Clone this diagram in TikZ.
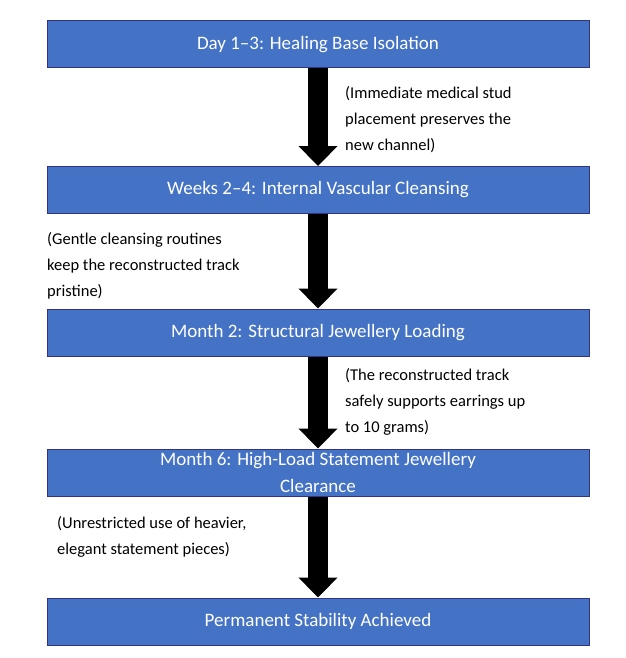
\documentclass[tikz,border=0pt]{standalone}
\usepackage{fontspec}
\setmainfont{Carlito}
\usetikzlibrary{arrows.meta}
\begin{document}
\begin{tikzpicture}[x=1pt,y=-1pt,
  box/.style={draw=blue!40!black!80!white, line width=1pt, fill={rgb,255:red,68;green,114;blue,196}, text=white, minimum width=542pt, minimum height=47pt, font=\fontsize{19}{27}\selectfont, align=center, inner sep=0pt},
  lab/.style={anchor=north west, align=left, font=\fontsize{16.5}{26}\selectfont, inner sep=0pt},
  arr/.style={line width=20pt, -{Triangle[width=38pt,length=20pt]}}]
\useasboundingbox (0,0) rectangle (625,658);
\node[box] (b1) at (318,44.5) {Day 1–3: Healing Base Isolation};
\node[box] (b2) at (318,190) {Weeks 2–4: Internal Vascular Cleansing};
\node[box] (b3) at (318,332.5) {Month 2: Structural Jewellery Loading};
\node[box] (b4) at (318,472.5) {Month 6: High-Load Statement Jewellery\\Clearance};
\node[box] (b5) at (318,621.5) {Permanent Stability Achieved};
\draw[arr] (b1.south) -- (b2.north);
\draw[arr] (b2.south) -- (b3.north);
\draw[arr] (b3.south) -- (b4.north);
\draw[arr] (b4.south) -- (b5.north);
\node[lab] (l1) at (345,86) {(Immediate medical stud\\placement preserves the\\new channel)};
\node[lab] (l2) at (47,232) {(Gentle cleansing routines\\keep the reconstructed track\\pristine)};
\node[lab] (l3) at (345,368) {(The reconstructed track\\safely supports earrings up\\to 10 grams)};
\node[lab] (l4) at (57,516) {(Unrestricted use of heavier,\\elegant statement pieces)};
\end{tikzpicture}
\end{document}
